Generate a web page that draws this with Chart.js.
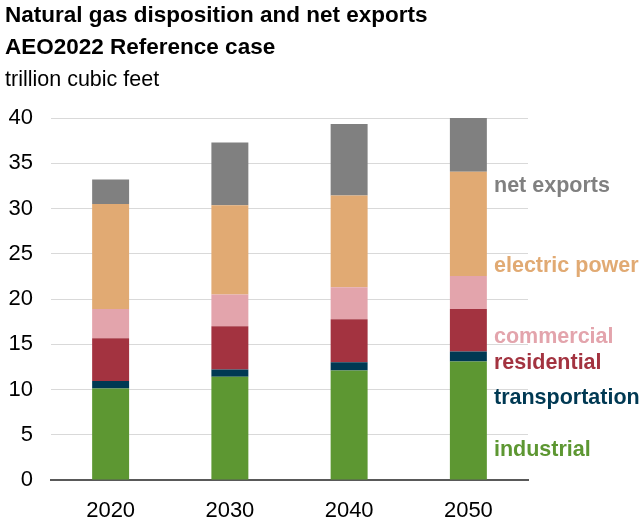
<!DOCTYPE html>
<html>
<head>
<meta charset="utf-8">
<script src="https://cdn.jsdelivr.net/npm/chart.js@4"></script>
<style>
  body { margin: 0; background: #fff; font-family: "Liberation Sans", Arial, sans-serif; }
  #wrap { position: relative; width: 642px; height: 519px; }
  .ttl { position: absolute; left: 5px; font-weight: bold; font-size: 22.5px; color: #000; white-space: nowrap; }
  .unit { position: absolute; left: 5px; top: 67px; font-size: 21.5px; color: #000; white-space: nowrap; }
  canvas { position: absolute; left: 0; top: 0; }
</style>
</head>
<body>
<div id="wrap">
  <canvas id="gasChart" width="642" height="519"></canvas>
  <div class="ttl" style="top:2px">Natural gas disposition and net exports</div>
  <div class="ttl" style="top:34px">AEO2022 Reference case</div>
  <div class="unit">trillion cubic feet</div>
</div>
<script>
const YEARS = ['2020', '2030', '2040', '2050'];
const Y_TICKS = [0, 5, 10, 15, 20, 25, 30, 35, 40];

const industrial = [10.1, 11.4, 12.1, 13.1];
const transportation = [0.85, 0.8, 0.9, 1.1];
const residential = [4.7, 4.8, 4.75, 4.7];
const commercial = [3.25, 3.5, 3.55, 3.65];
const electricPower = [11.6, 9.85, 10.15, 11.5];
const netExports = [2.7, 6.95, 7.9, 5.95];

// label text, colour, value height where the label sits
const SERIES = [
    ['industrial', industrial, '#5d9732', 3.3],
    ['transportation', transportation, '#003953', 9.0],
    ['residential', residential, '#a33340', 12.9],
    ['commercial', commercial, '#e3a4ac', 15.8],
    ['electric power', electricPower, '#e1aa73', 23.6],
    ['net exports', netExports, '#808080', 32.5]
];

const sideLabels = {
    id: 'sideLabels',
    afterDraw(chart) {
        const ctx = chart.ctx;
        const y = chart.scales.y;
        ctx.save();
        ctx.font = 'bold 21.5px "Liberation Sans", Arial, sans-serif';
        ctx.textBaseline = 'middle';
        ctx.textAlign = 'left';
        for (let s of SERIES) {
            ctx.fillStyle = s[2];
            ctx.fillText(s[0], chart.chartArea.right - 34, y.getPixelForValue(s[3]));
        }
        ctx.restore();
    }
};

const data = {
    labels: YEARS,
    datasets: SERIES.map(s => ({
        label: s[0],
        data: s[1],
        backgroundColor: s[2],
        barPercentage: 0.31,
        categoryPercentage: 1
    }))
};

const config = {
    type: 'bar',
    data: data,
    options: {
        responsive: false,
        animation: false,
        layout: { padding: { top: 118, right: 114, left: 0, bottom: 0 } },
        plugins: { legend: { display: false }, tooltip: { enabled: false } },
        scales: {
            x: {
                stacked: true,
                grid: { display: false, drawTicks: false },
                border: { color: '#595959', width: 2 },
                ticks: { color: '#000', font: { size: 22, family: '"Liberation Sans", Arial' }, padding: 18 },
                afterFit: s => { s.height = 39; }
            },
            y: {
                stacked: true,
                min: 0,
                max: 40,
                afterBuildTicks: s => { s.ticks = Y_TICKS.map(v => ({ value: v })); },
                grid: { color: '#d9d9d9', lineWidth: 1, drawTicks: false },
                border: { display: false },
                ticks: { color: '#000', font: { size: 22, family: '"Liberation Sans", Arial' }, padding: 18 },
                afterFit: s => { s.width = 51; }
            }
        }
    },
    plugins: [sideLabels]
};

const gasChart = new Chart(document.getElementById('gasChart'), config);
</script>
</body>
</html>
